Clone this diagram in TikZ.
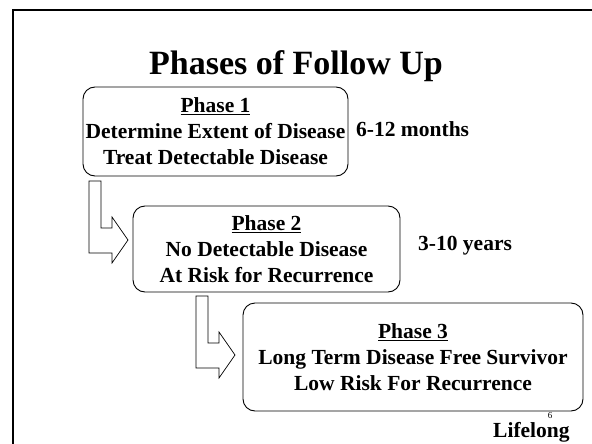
\documentclass[tikz,border=0pt]{standalone}
\usepackage{fontspec}
\setmainfont{Liberation Serif}
\begin{document}
\begin{tikzpicture}[x=1pt,y=-1pt,
  phasebox/.style={draw=black, line width=0.9pt, rounded corners=12pt,
    align=center, inner sep=0pt, font=\fontsize{21.5}{26}\selectfont\bfseries},
  sidelabel/.style={anchor=base west, inner sep=0pt,
    font=\fontsize{21.5}{26}\selectfont\bfseries},
  bentarrow/.style={draw=black, line width=0.7pt, fill=white}]
  \useasboundingbox (0,0) rectangle (592,444);
  % slide frame
  \draw[line width=2.6pt] (13,444) -- (13,10) -- (592,10);
  % title
  \node[font=\fontsize{34}{38}\selectfont\bfseries, anchor=base] (title) at (296,75) {Phases of Follow Up};
  % phase boxes
  \node[phasebox, minimum width=265pt, minimum height=89pt] (p1) at (215.5,131.5)
    {\underline{Phase 1}\\Determine Extent of Disease\\Treat Detectable Disease};
  \node[phasebox, minimum width=267pt, minimum height=86pt] (p2) at (266.5,249)
    {\underline{Phase 2}\\No Detectable Disease\\At Risk for Recurrence};
  \node[phasebox, minimum width=340pt, minimum height=108pt] (p3) at (413,357)
    {\underline{Phase 3}\\Long Term Disease Free Survivor\\Low Risk For Recurrence};
  % durations
  \node[sidelabel] (d1) at (356,136) {6-12 months};
  \node[sidelabel] (d2) at (418,250) {3-10 years};
  \node[sidelabel] (d3) at (493,437) {Lifelong};
  \node[font=\fontsize{9}{10}\selectfont, inner sep=0pt, anchor=south] (num) at (550,419) {6};
  % bent block arrows between phases
  \coordinate (a1) at (89,181);
  \coordinate (a2) at (196,296);
  \foreach \a in {a1,a2}{
    \draw[bentarrow] (\a) -- ++(0,72) -- ++(23,0) -- ++(0,10) -- ++(16,-23)
      -- ++(-16,-23) -- ++(0,11) -- ++(-11,0) -- ++(0,-47) -- cycle;
  }
\end{tikzpicture}
\end{document}
